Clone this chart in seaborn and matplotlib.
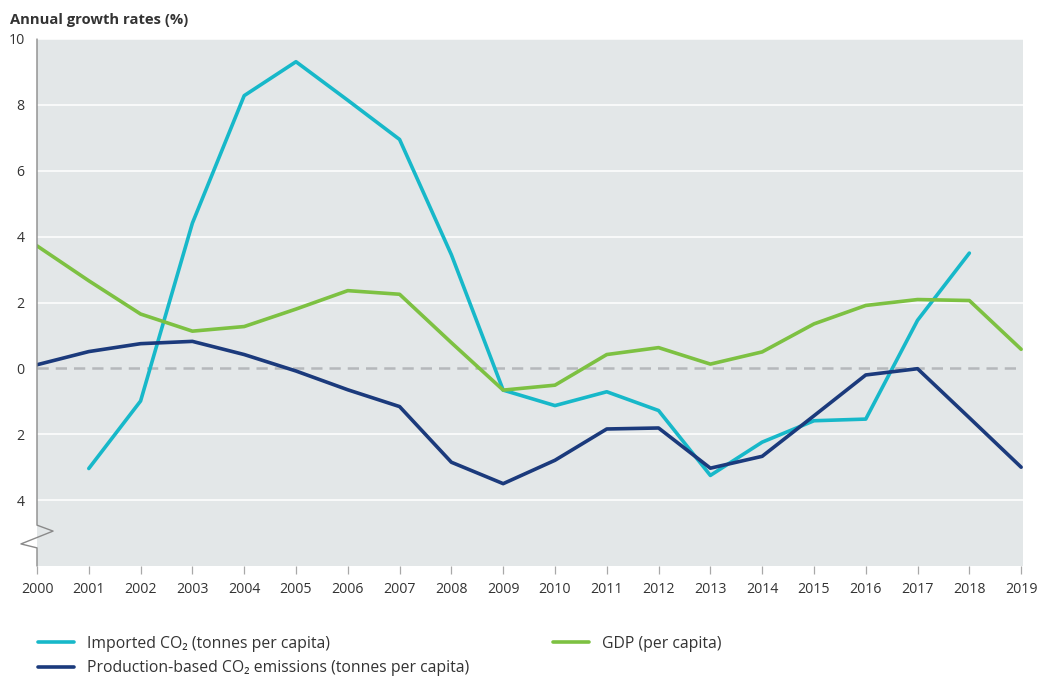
import pandas as pd
import seaborn as sns
import matplotlib.pyplot as plt
from matplotlib.lines import Line2D

# Данные
years = list(range(2000, 2020))
imported_co2 = [None, -3.04, -0.99, 4.41, 8.28, 9.31, 8.14, 6.95, 3.45, -0.66,
                -1.13, -0.71, -1.28, -3.25, -2.24, -1.59, -1.54, 1.46, 3.50, None]
production_co2 = [0.11, 0.51, 0.75, 0.82, 0.42, -0.08, -0.65, -1.16, -2.85, -3.50,
                  -2.79, -1.84, -1.81, -3.03, -2.67, -1.44, -0.20, -0.01, -1.50, -3.00]
gdp = [3.72, 2.66, 1.65, 1.13, 1.27, 1.80, 2.36, 2.25, 0.78, -0.66,
       -0.51, 0.42, 0.63, 0.13, 0.50, 1.35, 1.91, 2.09, 2.06, 0.58]

series_names = ['Imported CO₂ (tonnes per capita)',
                'Production-based CO₂ emissions (tonnes per capita)',
                'GDP (per capita)']
colors = ['#17b8c9', '#1b3a7c', '#7dc142']

yticks = [10, 8, 6, 4, 2, 0, -2, -4]
ytick_labels = ['10', '8', '6', '4', '2', '0', '2', '4']

# Длинная таблица для seaborn
rows = []
for name, vals in zip(series_names, [imported_co2, production_co2, gdp]):
    for y, v in zip(years, vals):
        if v is not None:
            rows.append({'year': y, 'value': v, 'series': name})
df = pd.DataFrame(rows)

sns.set_style('whitegrid', {'axes.facecolor': '#e3e7e8', 'grid.color': 'white'})
plt.rcParams['font.family'] = ['Open Sans', 'DejaVu Sans']

fig = plt.figure(figsize=(10.37, 6.77), dpi=100)
ax = fig.add_axes([37 / 1037, 1 - 566 / 677, (1022.7 - 37) / 1037, (566 - 39) / 677])

ax.axhline(0, color='#b5b8bb', lw=1.8, dashes=(4.5, 2.8), zorder=1)

sns.lineplot(data=df, x='year', y='value', hue='series', hue_order=series_names,
             palette=dict(zip(series_names, colors)), linewidth=2.6,
             legend=False, ax=ax, zorder=3)

ax.set_xlim(2000, 2019.03)
ax.set_ylim(-6, 10)
ax.set_xticks(years)
ax.set_xticklabels([str(y) for y in years], fontsize=10.2, color='#333333')
ax.set_yticks(yticks)
ax.set_yticklabels(ytick_labels, fontsize=10.2, color='#333333')
ax.set_xlabel('')
ax.set_ylabel('')
ax.grid(axis='x', visible=False)
ax.grid(axis='y', color='white', lw=1.1)
# у нуля своя пунктирная линия
ax.get_ygridlines()[5].set_visible(False)

ax.tick_params(axis='y', length=0, pad=9)
ax.tick_params(axis='x', bottom=True, length=5.5, width=0.9, color='#a8a8a8',
               direction='out', pad=6)
for s in ax.spines.values():
    s.set_visible(False)

# Левая ось с разрывом
ax.plot([2000, 2000, 2000.31, 1999.69, 2000, 2000],
        [10, -4.76, -4.94, -5.33, -5.45, -6],
        color='#8a8a8a', lw=1, clip_on=False, zorder=4)

fig.text(10 / 1037, 1 - 20 / 677, 'Annual growth rates (%)', fontsize=10.6,
         fontweight='bold', color='#333333', va='center', ha='left')

# Легенда в две части
def handle(c):
    return Line2D([], [], color=c, lw=2.6)

leg1 = fig.legend([handle(colors[0]), handle(colors[1])], series_names[:2],
                  loc='upper left', bbox_to_anchor=(30 / 1037, 1 - 628 / 677),
                  frameon=False, fontsize=11.3, handlelength=2.3,
                  handletextpad=0.85, labelspacing=0.55, borderpad=0)
for t in leg1.get_texts():
    t.set_color('#333333')
leg2 = fig.legend([handle(colors[2])], series_names[2:],
                  loc='upper left', bbox_to_anchor=(545 / 1037, 1 - 628 / 677),
                  frameon=False, fontsize=11.3, handlelength=2.3,
                  handletextpad=0.85, borderpad=0)
for t in leg2.get_texts():
    t.set_color('#333333')

fig.savefig('out.png', dpi=100)
